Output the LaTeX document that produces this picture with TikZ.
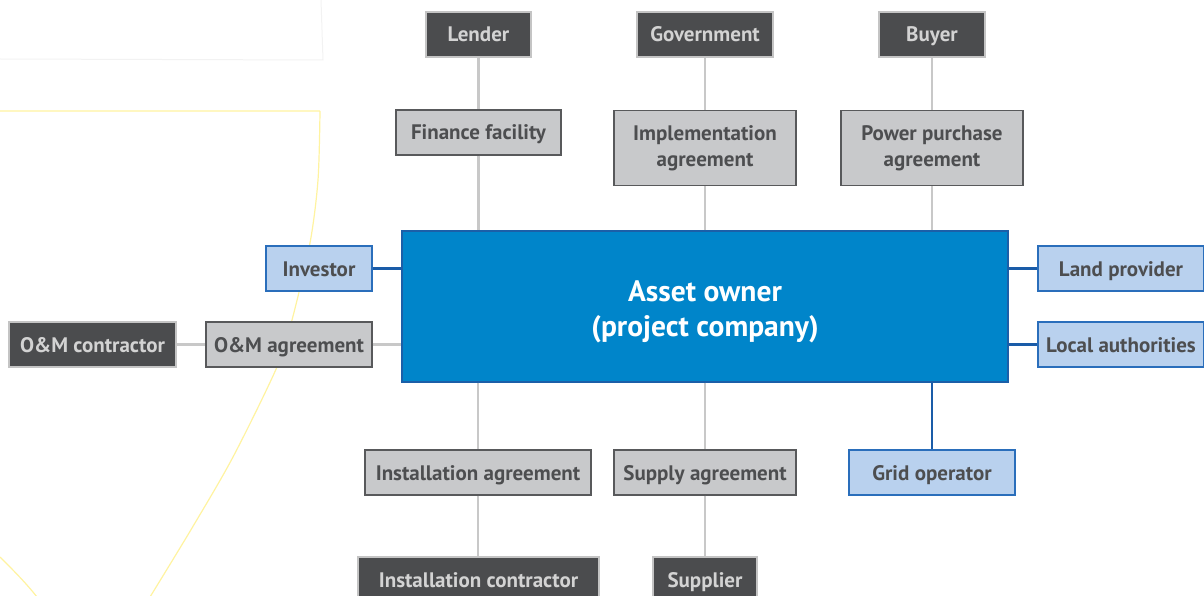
\documentclass[tikz,border=0pt]{standalone}
\usepackage{fontspec}
\setmainfont{PT Sans}
\definecolor{darkfill}{HTML}{4B4C4E}
\definecolor{darktext}{HTML}{D3D3D3}
\definecolor{darkborder}{HTML}{C4C4C4}
\definecolor{grayfill}{HTML}{C8C9CB}
\definecolor{grayborder}{HTML}{58595B}
\definecolor{graytext}{HTML}{4D4E50}
\definecolor{bluefill}{HTML}{B9D1EE}
\definecolor{blueborder}{HTML}{2A6EBB}
\definecolor{assetfill}{HTML}{0085CA}
\definecolor{assetborder}{HTML}{1B5FA8}
\definecolor{grayline}{HTML}{C8C8C8}
\definecolor{blueline}{HTML}{1A5CA8}
\definecolor{faintyellow}{HTML}{FFF3A0}
\definecolor{faintgray}{HTML}{F2F2F2}
\tikzset{
  base/.style={rectangle, inner sep=0pt, align=center, line width=1.3pt,
    font=\bfseries\fontsize{21}{26}\selectfont},
  oneline/.style={text height=15pt, text depth=0pt},
  party/.style={base, oneline, fill=darkfill, draw=darkborder, text=darktext},
  agreement/.style={base, oneline, fill=grayfill, draw=grayborder, text=graytext},
  agreementtwo/.style={base, fill=grayfill, draw=grayborder, text=graytext},
  stake/.style={base, oneline, fill=bluefill, draw=blueborder, text=graytext},
  owner/.style={rectangle, inner sep=0pt, align=center, line width=1.3pt,
    fill=assetfill, draw=assetborder, text=white,
    font=\bfseries\fontsize{29.5}{35}\selectfont},
  gline/.style={draw=grayline, line width=2.5pt},
  bline/.style={draw=blueline, line width=2.5pt},
}
\begin{document}
\begin{tikzpicture}[x=1pt,y=-1pt]
\useasboundingbox (0,0) rectangle (1204,596);
\clip (0,0) rectangle (1204,596);
% faint background shapes
\draw[faintgray, line width=1pt] (321,0) -- (323,60) -- (0,59);
\draw[faintyellow, line width=1.2pt] (0,111) -- (320,111)
  plot[smooth] coordinates {(320,111)(318,180)(310,243)(292,320)(277,367)(233,457)(192,528)(150,597)};
\draw[faintyellow, line width=1.2pt] (0,557) .. controls (14,571) and (26,583) .. (37,597);
% nodes
\node[party, minimum width=105pt, minimum height=45pt] (lender) at (478.5,34.5) {Lender};
\node[party, minimum width=136pt, minimum height=45pt] (gov) at (705,34.5) {Government};
\node[party, minimum width=106pt, minimum height=45pt] (buyer) at (932,34.5) {Buyer};
\node[agreement, minimum width=165pt, minimum height=45pt] (fin) at (478.5,132.5) {Finance facility};
\node[agreementtwo, minimum width=182pt, minimum height=75pt] (impl) at (705,148) {Implementation\\agreement};
\node[agreementtwo, minimum width=182pt, minimum height=75pt] (ppa) at (932,148) {Power purchase\\agreement};
\node[owner, minimum width=606pt, minimum height=151pt] (asset) at (705,306.5) {\\[-4pt]Asset owner\\(project company)};
\node[stake, minimum width=106pt, minimum height=45pt] (inv) at (319,268.5) {Investor};
\node[stake, minimum width=166pt, minimum height=45pt] (land) at (1121,268.5) {Land provider};
\node[stake, minimum width=166pt, minimum height=45pt] (local) at (1121,344.5) {Local authorities};
\node[party, minimum width=167pt, minimum height=45pt] (omc) at (92.5,344.5) {O\&M contractor};
\node[agreement, minimum width=166pt, minimum height=45pt] (oma) at (289,344.5) {O\&M agreement};
\node[agreement, minimum width=226pt, minimum height=45pt] (insta) at (478,472.5) {Installation agreement};
\node[agreement, minimum width=182pt, minimum height=45pt] (supa) at (705,472.5) {Supply agreement};
\node[stake, minimum width=166pt, minimum height=45pt] (grid) at (932,472.5) {Grid operator};
\node[party, minimum width=241pt, minimum height=45pt] (instc) at (478.5,579.5) {Installation contractor};
\node[party, minimum width=104pt, minimum height=45pt] (supp) at (705,579.5) {Supplier};
% connectors
\draw[gline] (lender) -- (fin);
\draw[gline] (fin) -- (fin |- asset.north);
\draw[gline] (gov) -- (impl);
\draw[gline] (impl) -- (impl |- asset.north);
\draw[gline] (buyer) -- (ppa);
\draw[gline] (ppa) -- (ppa |- asset.north);
\draw[gline] (insta |- asset.south) -- (insta);
\draw[gline] (insta) -- (insta |- instc.north);
\draw[gline] (supa |- asset.south) -- (supa);
\draw[gline] (supa) -- (supp);
\draw[gline] (omc) -- (oma);
\draw[gline] (oma) -- (oma -| asset.west);
\draw[bline] (inv) -- (inv -| asset.west);
\draw[bline] (land -| asset.east) -- (land);
\draw[bline] (local -| asset.east) -- (local);
\draw[bline] (grid |- asset.south) -- (grid);
\end{tikzpicture}
\end{document}
